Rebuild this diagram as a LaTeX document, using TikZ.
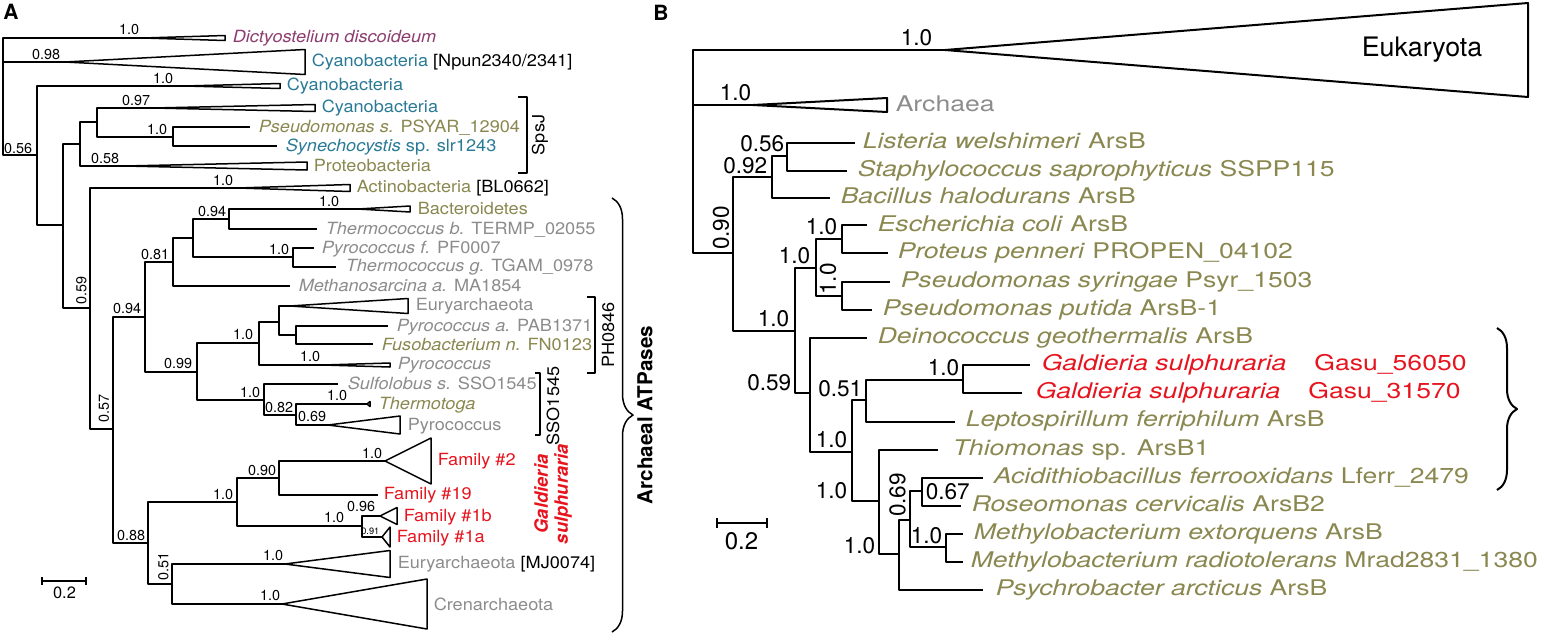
\documentclass[tikz,border=0pt]{standalone}
\usepackage{fontspec}
\setmainfont{TeX Gyre Heros}
\newfontfamily\fontA[FakeStretch=1.08]{TeX Gyre Heros}
\newfontfamily\fontB[FakeStretch=1.23]{TeX Gyre Heros}
\usetikzlibrary{decorations.pathreplacing}

\definecolor{cteal}{RGB}{42,122,150}
\definecolor{colive}{RGB}{138,136,80}
\definecolor{cgray}{RGB}{140,140,140}
\definecolor{cpurple}{RGB}{140,60,110}
\definecolor{cred}{RGB}{230,20,30}

\tikzset{
  lblA/.style={anchor=mid west, inner sep=0pt, font=\fontA\fontsize{8.4}{9}\selectfont},
  lblB/.style={anchor=mid west, inner sep=0pt, font=\fontB\fontsize{10.8}{12}\selectfont},
  bsA/.style={anchor=south east, inner sep=0.5pt, font=\fontsize{7.2}{8}\selectfont},
  bsB/.style={anchor=south east, inner sep=0.5pt, font=\fontsize{11.3}{12}\selectfont},
  curly/.style={decorate, decoration={brace, amplitude=#1}},
}
% collapsed clade: apex, length, half height
\newcommand{\cladetri}[3]{\draw (#1) -- ++(#2,-#3) -- ++(0,2*#3) -- cycle;}

\begin{document}
\begin{tikzpicture}[x=0.5pt, y=-0.5pt, line width=0.75pt, line join=round]
  \useasboundingbox (0,0) rectangle (1554,633);

  % ---------------- panel A ----------------
  \node[font=\bfseries\fontsize{10.5}{11}\selectfont] (pA) at (11,12) {A};

  \foreach \n/\x/\y in {rA/3/96, dic/143/38, cy1/65/62, n056/37/155, cy2/185/86,
      n063/63/225, nsp/80/144, n097/97/122, cy3/153/108, n10a/173/137, pse/250/127,
      syn/277/146, pro/125/166, n059/90/308, act/238/188, n057/113/429, n094/145/317,
      n081/173/262, n094b/193/238, n229/229/219, bac/358/209, thb/317/229,
      n293/293/257, pyf/314/248, thg/336/267, met/290/286, n099/197/372,
      n259/259/343, n279/279/322, eur1/290/306, n296/296/335, pya/388/326,
      fus/373/344, pyr1/323/365, n264/264/400, sul/338/384, n296b/296/415,
      tmt/367/404, pyr2/328/425, n088/148/543, n237/237/502, n279b/279/478,
      fam2/385/461, fam19/378/495, n362/362/526, fam1b/380/516, fam1a/382/537,
      n051/172/584, eur2/285/564, cre/282/604}
    \coordinate (\n) at (\x,\y);

  \foreach \p/\c in {rA/dic, rA/cy1, rA/n056, n056/cy2, n056/n063, n063/nsp,
      n063/n059, nsp/n097, nsp/pro, n097/cy3, n097/n10a, n10a/pse, n10a/syn,
      n059/act, n059/n057, n057/n094, n057/n088, n094/n081, n094/n099,
      n081/n094b, n081/met, n094b/n229, n094b/n293, n229/bac, n229/thb,
      n293/pyf, n293/thg, n099/n259, n099/n264, n259/n279, n259/pyr1,
      n279/eur1, n279/n296, n296/pya, n296/fus, n264/sul, n264/n296b,
      n296b/tmt, n296b/pyr2, n088/n237, n088/n051, n237/n279b, n237/n362,
      n279b/fam2, n279b/fam19, n362/fam1b, n362/fam1a, n051/eur2, n051/cre}
    \draw (\p) |- (\c);

  \foreach \c/\w/\h in {dic/82/2.5, cy1/240/12.5, cy2/95/2.5, cy3/162/3.5,
      pro/182/4, act/112/3.5, bac/52/3, eur1/118/7.5, pyr1/67/2, tmt/3/2.5,
      pyr2/72/9, fam2/46/23, fam1b/17/8.5, fam1a/8/10, eur2/105/13.5, cre/145/25}
    {\cladetri{\c}{\w}{\h}}

  % support values
  \foreach \x/\y/\t [count=\k] in {141/36/1.0, 62/61/0.98, 34/155/0.56, 175/85/1.0,
      152/107/0.97, 169/136/1.0, 121/165/0.58, 235/187/1.0, 143/315/0.94,
      171/261/0.81, 228/218/0.94, 341/208/1.0, 291/256/1.0, 255/341/1.0,
      194/370/0.99, 322/363/1.0, 262/399/1.0, 295/414/0.82, 349/402/1.0,
      328/423/0.69, 278/477/0.90, 235/501/1.0, 147/542/0.88, 384/460/1.0,
      346/524/1.0, 377/513/0.96, 285/562/1.0, 282/602/1.0}
    \node[bsA] (bA\k) at (\x,\y) {\t};
  \node[bsA, anchor=center, rotate=90] (bA59) at (81.5,290) {0.59};
  \node[bsA, anchor=center, rotate=90] (bA57) at (104,408) {0.57};
  \node[bsA, anchor=center, rotate=90] (bA51) at (163.5,566.5) {0.51};
  \node[bsA, font=\fontsize{4.6}{5}\selectfont] (bA91) at (381,536) {0.91};

  % leaf labels
  \node[lblA, text=cpurple] (dicL) at (232,37) {\textit{Dictyostelium discoideum}};
  \node[lblA, text=cteal] (cy1L) at (311,61) {Cyanobacteria \textcolor{black}{[Npun2340/2341]}};
  \node[lblA, text=cteal] (cy2L) at (286,85) {Cyanobacteria};
  \node[lblA, text=cteal] (cy3L) at (321,107) {Cyanobacteria};
  \node[lblA, text=colive] (pseL) at (258,127) {\textit{Pseudomonas s.} PSYAR\_12904};
  \node[lblA, text=cteal] (synL) at (285,146) {\textit{Synechocystis} sp. slr1243};
  \node[lblA, text=colive] (proL) at (313,166) {Proteobacteria};
  \node[lblA, text=colive] (actL) at (356,187) {Actinobacteria \textcolor{black}{[BL0662]}};
  \node[lblA, text=colive] (bacL) at (417,209) {Bacteroidetes};
  \node[lblA, text=cgray] (thbL) at (325,229) {\textit{Thermococcus b.} TERMP\_02055};
  \node[lblA, text=cgray] (pyfL) at (321,248) {\textit{Pyrococcus f.} PF0007};
  \node[lblA, text=cgray] (thgL) at (345,266) {\textit{Thermococcus g.} TGAM\_0978};
  \node[lblA, text=cgray] (metL) at (298,286) {\textit{Methanosarcina a.} MA1854};
  \node[lblA, text=cgray] (eur1L) at (415,305) {Euryarchaeota};
  \node[lblA, text=cgray] (pyaL) at (396,326) {\textit{Pyrococcus a.} PAB1371};
  \node[lblA, text=colive] (fusL) at (381,345) {\textit{Fusobacterium n.} FN0123};
  \node[lblA, text=cgray] (pyr1L) at (397,364) {\textit{Pyrococcus}};
  \node[lblA, text=cgray] (sulL) at (347,384) {\textit{Sulfolobus s.} SSO1545};
  \node[lblA, text=colive] (tmtL) at (378,404) {\textit{Thermotoga}};
  \node[lblA, text=cgray] (pyr2L) at (407,425) {Pyrococcus};
  \node[lblA, text=cred] (fam2L) at (437,460) {Family \#2};
  \node[lblA, text=cred] (fam19L) at (383,494) {Family \#19};
  \node[lblA, text=cred] (fam1bL) at (403,516) {Family \#1b};
  \node[lblA, text=cred] (fam1aL) at (396,537) {Family \#1a};
  \node[lblA, text=cgray] (eur2L) at (397,563) {Euryarchaeota \textcolor{black}{[MJ0074]}};
  \node[lblA, text=cgray] (creL) at (433,605) {Crenarchaeota};

  % groups
  \draw (518,97) -- (527,97) -- (527,173) -- (518,173);
  \node[lblA, anchor=center, rotate=90] (spsL) at (540,135) {SpsJ};
  \draw (587,297) -- (595,297) -- (595,373) -- (587,373);
  \node[lblA, anchor=center, rotate=90] (phL) at (608,335) {PH0846};
  \draw (535,373) -- (540,373) -- (540,435) -- (535,435);
  \node[lblA, anchor=center, rotate=90] (ssoL) at (553,406) {SSO1545};
  \node[text=cred, font=\bfseries\itshape\fontsize{9.2}{10}\selectfont, rotate=90,
        align=center, inner sep=0pt] (galL) at (553,494) {Galdieria\\sulphuraria};
  \draw[curly=10.5pt] (612,198) -- (612,632);
  \node[font=\bfseries\fontsize{10.3}{11}\selectfont, rotate=90] (archL) at (645,415) {Archaeal ATPases};

  % scale bar
  \coordinate (sA1) at (42,581);
  \coordinate (sA2) at (86,581);
  \draw (sA1) -- (sA2);
  \draw (sA1) ++(0,-4) -- ++(0,8);
  \draw (sA2) ++(0,-4) -- ++(0,8);
  \node[font=\fontsize{8.2}{9}\selectfont] (sAL) at (64.5,592.5) {0.2};

  % ---------------- panel B ----------------
  \node[font=\bfseries\fontsize{10.5}{11}\selectfont] (pB) at (661,13) {B};

  \begin{scope}[line width=1pt]
  \foreach \n/\x/\y in {rB/693/150, euk/945/50, arc/753/105, n090/733/253,
      n092/772/177, n056b/787/156, lis/855/143, sta/847/171, bac2/830/198,
      n10b/795/331, n10c/816/268, n10d/842/239, eco/867/225, pro2/888/253,
      n10e/842/296, psy/890/282, ppu/872/310, n059b/810/393, dei/867/338,
      n10f/852/452, n051b/866/400, n10h/963/380, g1/1030/365, g2/1022/393,
      lep/955/422, n10g/879/501, thi/938/450, n069/899/554, n910/910/520,
      n067/922/491, aci/983/478, ros/961/506, n10i/946/547, mex/963/534,
      mra/963/562, psc/983/590}
    \coordinate (\n) at (\x,\y);

  \foreach \p/\c in {rB/euk, rB/arc, rB/n090, n090/n092, n090/n10b, n092/n056b,
      n092/bac2, n056b/lis, n056b/sta, n10b/n10c, n10b/n059b, n10c/n10d,
      n10c/n10e, n10d/eco, n10d/pro2, n10e/psy, n10e/ppu, n059b/dei,
      n059b/n10f, n10f/n051b, n10f/n10g, n051b/n10h, n051b/lep, n10h/g1,
      n10h/g2, n10g/thi, n10g/n069, n069/n910, n069/psc, n910/n067,
      n910/n10i, n067/aci, n067/ros, n10i/mex, n10i/mra}
    \draw (\p) |- (\c);

  \cladetri{euk}{583}{47}
  \cladetri{arc}{134}{7}
  \end{scope}

  \foreach \x/\y/\t [count=\k] in {934/48/1.0, 753/103/1.0, 786/154/0.56,
      769/176/0.92, 791/329/1.0, 812/266/1.0, 839/237/1.0, 793/393/0.59,
      864/399/0.51, 961/378/1.0, 849/450/1.0, 849/501/1.0, 877/556/1.0,
      944/546/1.0}
    \node[bsB] (bB\k) at (\x,\y) {\t};
  \node[bsB, anchor=center, rotate=90] (bB90) at (721,228) {0.90};
  \node[bsB, anchor=center, rotate=90] (bB10) at (828,279) {1.0};
  \node[bsB, anchor=center, rotate=90] (bB69) at (897.5,495) {0.69};
  \node[bsB, anchor=west] (bB67) at (924,492) {0.67};

  \node[font=\fontsize{13.4}{14}\selectfont] (eukL) at (1422,50) {Eukaryota};
  \node[lblB, text=cgray] (arcL) at (895,106) {Archaea};
  \node[lblB, text=colive] (lisL) at (862,143) {\textit{Listeria welshimeri} ArsB};
  \node[lblB, text=colive] (staL) at (857,171) {\textit{Staphylococcus saprophyticus} SSPP115};
  \node[lblB, text=colive] (bacL2) at (840,198) {\textit{Bacillus halodurans} ArsB};
  \node[lblB, text=colive] (ecoL) at (877,226) {\textit{Escherichia coli} ArsB};
  \node[lblB, text=colive] (proL2) at (897,253) {\textit{Proteus penneri} PROPEN\_04102};
  \node[lblB, text=colive] (psyL) at (900,282) {\textit{Pseudomonas syringae} Psyr\_1503};
  \node[lblB, text=colive] (ppuL) at (882,310) {\textit{Pseudomonas putida} ArsB-1};
  \node[lblB, text=colive] (deiL) at (877,338) {\textit{Deinococcus geothermalis} ArsB};
  \node[lblB, text=cred] (g1L) at (1041,365) {\textit{Galdieria sulphuraria}\hspace{14pt}Gasu\_56050};
  \node[lblB, text=cred] (g2L) at (1035,393) {\textit{Galdieria sulphuraria}\hspace{14pt}Gasu\_31570};
  \node[lblB, text=colive] (lepL) at (965,421) {\textit{Leptospirillum ferriphilum} ArsB};
  \node[lblB, text=colive] (thiL) at (952,450) {\textit{Thiomonas} sp. ArsB1};
  \node[lblB, text=colive] (aciL) at (993,478) {\textit{Acidithiobacillus ferrooxidans} Lferr\_2479};
  \node[lblB, text=colive] (rosL) at (971,506) {\textit{Roseomonas cervicalis} ArsB2};
  \node[lblB, text=colive] (mexL) at (973,534) {\textit{Methylobacterium extorquens} ArsB};
  \node[lblB, text=colive] (mraL) at (970,562) {\textit{Methylobacterium radiotolerans} Mrad2831\_1380};
  \node[lblB, text=colive] (pscL) at (995,590) {\textit{Psychrobacter arcticus} ArsB};

  \draw[curly=10pt, line width=1pt] (1497,328) -- (1497,490);

  \coordinate (sB1) at (717,523);
  \coordinate (sB2) at (767,523);
  \draw[line width=1pt] (sB1) -- (sB2);
  \draw[line width=1pt] (sB1) ++(0,-5) -- ++(0,10);
  \draw[line width=1pt] (sB2) ++(0,-5) -- ++(0,10);
  \node[font=\fontsize{12}{13}\selectfont] (sBL) at (741.5,541.5) {0.2};
\end{tikzpicture}
\end{document}
